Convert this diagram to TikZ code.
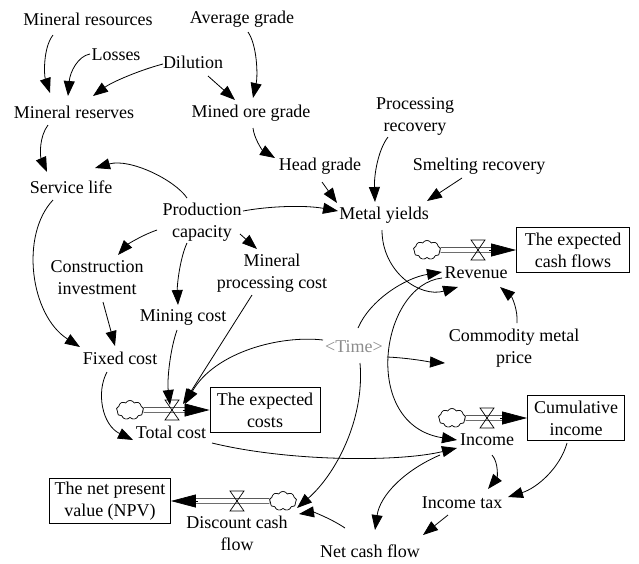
\documentclass[tikz,border=0pt]{standalone}
\usepackage{fontspec}
\setmainfont{Liberation Serif}
\usetikzlibrary{arrows.meta,shapes.symbols}
\tikzset{
  txt/.style={font=\fontsize{18}{22}\selectfont, inner sep=1pt, align=center},
  stockbox/.style={font=\fontsize{18}{22}\selectfont, align=center, draw, line width=0.8pt, inner xsep=4pt, inner ysep=2pt, minimum height=45pt},
  conn/.style={line width=0.8pt, -{Triangle[length=15pt,width=11pt]}},
  pipe/.style={double, double distance=4pt, line width=0.7pt},
  pipetip/.style={line width=0.7pt, -{Triangle[length=25pt,width=13pt]}},
  cloudsrc/.style={cloud, cloud puffs=9, cloud puff arc=120, aspect=1.4, draw, line width=0.6pt, fill=white, minimum width=27pt, minimum height=19pt, inner sep=0pt},
  valvepic/.pic={\draw[line width=0.7pt] (-7,10) -- (7,10) -- (-7,-10) -- (7,-10) -- cycle;}
}
\begin{document}
\begin{tikzpicture}[x=1pt,y=1pt]
\useasboundingbox (0,0) rectangle (639,-563);

% ---------- auxiliaries ----------
\node[txt] (mres) at (88,-19) {Mineral resources};
\node[txt] (avg) at (242,-19) {Average grade};
\node[txt] (loss) at (116,-55) {Losses};
\node[txt] (dil) at (193,-62) {Dilution};
\node[txt] (mrv) at (74,-112) {Mineral reserves};
\node[txt] (mog) at (251,-113) {Mined ore grade};
\node[txt] (head) at (320,-166) {Head grade};
\node[txt] (proc) at (415,-116) {Processing\\recovery};
\node[txt] (smelt) at (479,-166) {Smelting recovery};
\node[txt] (serv) at (71,-187) {Service life};
\node[txt] (prod) at (202,-222) {Production\\capacity};
\node[txt] (metal) at (384,-215) {Metal yields};
\node[txt] (cons) at (97,-278) {Construction\\investment};
\node[txt] (minproc) at (272,-273) {Mineral\\processing cost};
\node[txt] (mining) at (183,-317) {Mining cost};
\node[txt] (fixed) at (120,-358) {Fixed cost};
\node[txt, text=black!45] (time) at (354,-347) {\textless Time\textgreater};
\node[txt] (comm) at (514,-348) {Commodity metal\\price};
\node[txt] (itax) at (462,-503) {Income tax};
\node[txt] (ncf) at (370,-551) {Net cash flow};

% ---------- stocks ----------
\node[stockbox, minimum width=110pt] (ecost) at (265,-410) {The expected\\costs};
\node[stockbox, minimum width=113pt] (ecash) at (573,-250) {The expected\\cash flows};
\node[stockbox, minimum width=97pt] (cumi) at (576,-418) {Cumulative\\income};
\node[stockbox, minimum width=121pt] (npv) at (110,-501) {The net present\\value (NPV)};

% ---------- flows ----------
\coordinate (v1) at (172,-410);
\coordinate (v2) at (478,-250);
\coordinate (v3) at (487,-418);
\coordinate (v4) at (237,-501);
\node[cloudsrc] (c1) at (130,-410) {};
\node[cloudsrc] (c2) at (427,-250) {};
\node[cloudsrc] (c3) at (452,-418) {};
\node[cloudsrc] (c4) at (283,-501) {};

\draw[pipe] (c1.east) -- ([xshift=-20pt]ecost.west);
\draw[pipetip] ([xshift=-27pt]ecost.west) -- (ecost.west);
\draw[pipe] (c2.east) -- ([xshift=-20pt]ecash.west);
\draw[pipetip] ([xshift=-27pt]ecash.west) -- (ecash.west);
\draw[pipe] (c3.east) -- ([xshift=-20pt]cumi.west);
\draw[pipetip] ([xshift=-27pt]cumi.west) -- (cumi.west);
\draw[pipe] (c4.west) -- ([xshift=20pt]npv.east);
\draw[pipetip] ([xshift=27pt]npv.east) -- (npv.east);

\node[cloudsrc] at (c1) {};
\node[cloudsrc] at (c2) {};
\node[cloudsrc] at (c3) {};
\node[cloudsrc] at (c4) {};

\pic at (v1) {valvepic};
\pic at (v2) {valvepic};
\pic at (v3) {valvepic};
\pic at (v4) {valvepic};

\node[txt] (tc) at (171,-432) {Total cost};
\node[txt] (rev) at (476,-273) {Revenue};
\node[txt] (inc) at (487,-440) {Income};
\node[txt] (dcf) at (237,-533) {Discount cash\\flow};

% ---------- connectors ----------
\draw[conn] ([shift={(-35,-16)}]mres.center) .. controls (43,-48) and (44,-75) .. ([shift={(-24,19)}]mrv.center);
\draw[conn] ([shift={(-26,1)}]loss.center) .. controls (78,-56) and (70,-72) .. ([shift={(-6,16)}]mrv.center);
\draw[conn] ([shift={(-30,-2)}]dil.center) .. controls (140,-70) and (112,-82) .. ([shift={(19,16)}]mrv.center);
\draw[conn] ([shift={(15,-14)}]dil.center) -- ([shift={(-16,13)}]mog.center);
\draw[conn] ([shift={(6,-13)}]avg.center) .. controls (257,-45) and (258,-75) .. ([shift={(2,15)}]mog.center);
\draw[conn] ([shift={(2,-15)}]mog.center) .. controls (254,-138) and (262,-150) .. ([shift={(-45,8)}]head.center);
\draw[conn] ([shift={(-26,-13)}]mrv.center) .. controls (39,-137) and (40,-156) .. ([shift={(-24,15)}]serv.center);
\draw[conn] ([shift={(-15,24)}]prod.center) .. controls (175,-180) and (130,-158) .. ([shift={(24,19)}]serv.center);
\draw[conn] ([shift={(41,11)}]prod.center) .. controls (270,-206) and (305,-205) .. ([shift={(-46,4)}]metal.center);
\draw[conn] ([shift={(2,-16)}]head.center) -- ([shift={(-47,12)}]metal.center);
\draw[conn] ([shift={(-27,-21)}]proc.center) .. controls (378,-150) and (374,-175) .. ([shift={(-9,13)}]metal.center);
\draw[conn] ([shift={(-17,-12)}]smelt.center) -- ([shift={(43,14)}]metal.center);
\draw[conn] ([shift={(-45,-8)}]prod.center) .. controls (140,-236) and (127,-245) .. ([shift={(21,23)}]cons.center);
\draw[conn] ([shift={(-15,-21)}]prod.center) .. controls (180,-258) and (177,-285) .. ([shift={(-5,12)}]mining.center);
\draw[conn] ([shift={(38,-12)}]prod.center) -- ([shift={(-15,24)}]minproc.center);
\draw[conn] ([shift={(6,-24)}]cons.center) -- ([shift={(-5,12)}]fixed.center);
\draw[conn] ([shift={(-18,-13)}]serv.center) .. controls (20,-235) and (30,-315) .. ([shift={(-40,11)}]fixed.center);
\draw[conn] ([shift={(-6,-13)}]mining.center) .. controls (170,-350) and (167,-380) .. ([shift={(-2,5)}]v1);
\draw[conn] ([shift={(-20,-22)}]minproc.center) -- ([shift={(11,6)}]v1);
\draw[conn] ([shift={(-31,7)}]time.center) .. controls (280,-335) and (215,-352) .. ([shift={(13,6)}]v1);
\draw[conn] ([shift={(-13,-14)}]fixed.center) .. controls (96,-392) and (102,-425) .. ([shift={(-38,-8)}]tc.center);
\draw[conn] ([shift={(41,-11)}]tc.center) .. controls (290,-462) and (400,-462) .. ([shift={(-30,-8)}]inc.center);
\draw[conn] ([shift={(4,19)}]time.center) .. controls (370,-300) and (405,-278) .. ([shift={(-34,1)}]rev.center);
\draw[conn] ([shift={(-34,-5)}]rev.center) .. controls (380,-285) and (360,-425) .. ([shift={(-30,0)}]inc.center);
\draw[conn] ([shift={(-2,-15)}]metal.center) .. controls (382,-272) and (420,-298) .. ([shift={(-18,-14)}]rev.center);
\draw[conn] ([shift={(33,-10)}]time.center) .. controls (410,-358) and (430,-362) .. ([shift={(-69,-15)}]comm.center);
\draw[conn] ([shift={(3,25)}]comm.center) .. controls (518,-310) and (512,-297) .. ([shift={(24,-14)}]rev.center);
\draw[conn] ([shift={(6,-16)}]time.center) .. controls (365,-420) and (335,-475) .. ([shift={(14,-7)}]c4.center);
\draw[conn] ([shift={(-25,23)}]ncf.center) .. controls (330,-518) and (313,-512) .. ([shift={(16,-13)}]c4.center);
\draw[conn] ([shift={(-47,-15)}]inc.center) .. controls (405,-470) and (380,-495) .. ([shift={(5,21)}]ncf.center);
\draw[conn] ([shift={(5,-15)}]inc.center) .. controls (499,-463) and (497,-478) .. ([shift={(26,14)}]itax.center);
\draw[conn] ([shift={(-9,-25)}]cumi.center) .. controls (560,-468) and (537,-488) .. ([shift={(46,6)}]itax.center);
\draw[conn] ([shift={(-14,-12)}]itax.center) -- ([shift={(53,16)}]ncf.center);
\end{tikzpicture}
\end{document}
